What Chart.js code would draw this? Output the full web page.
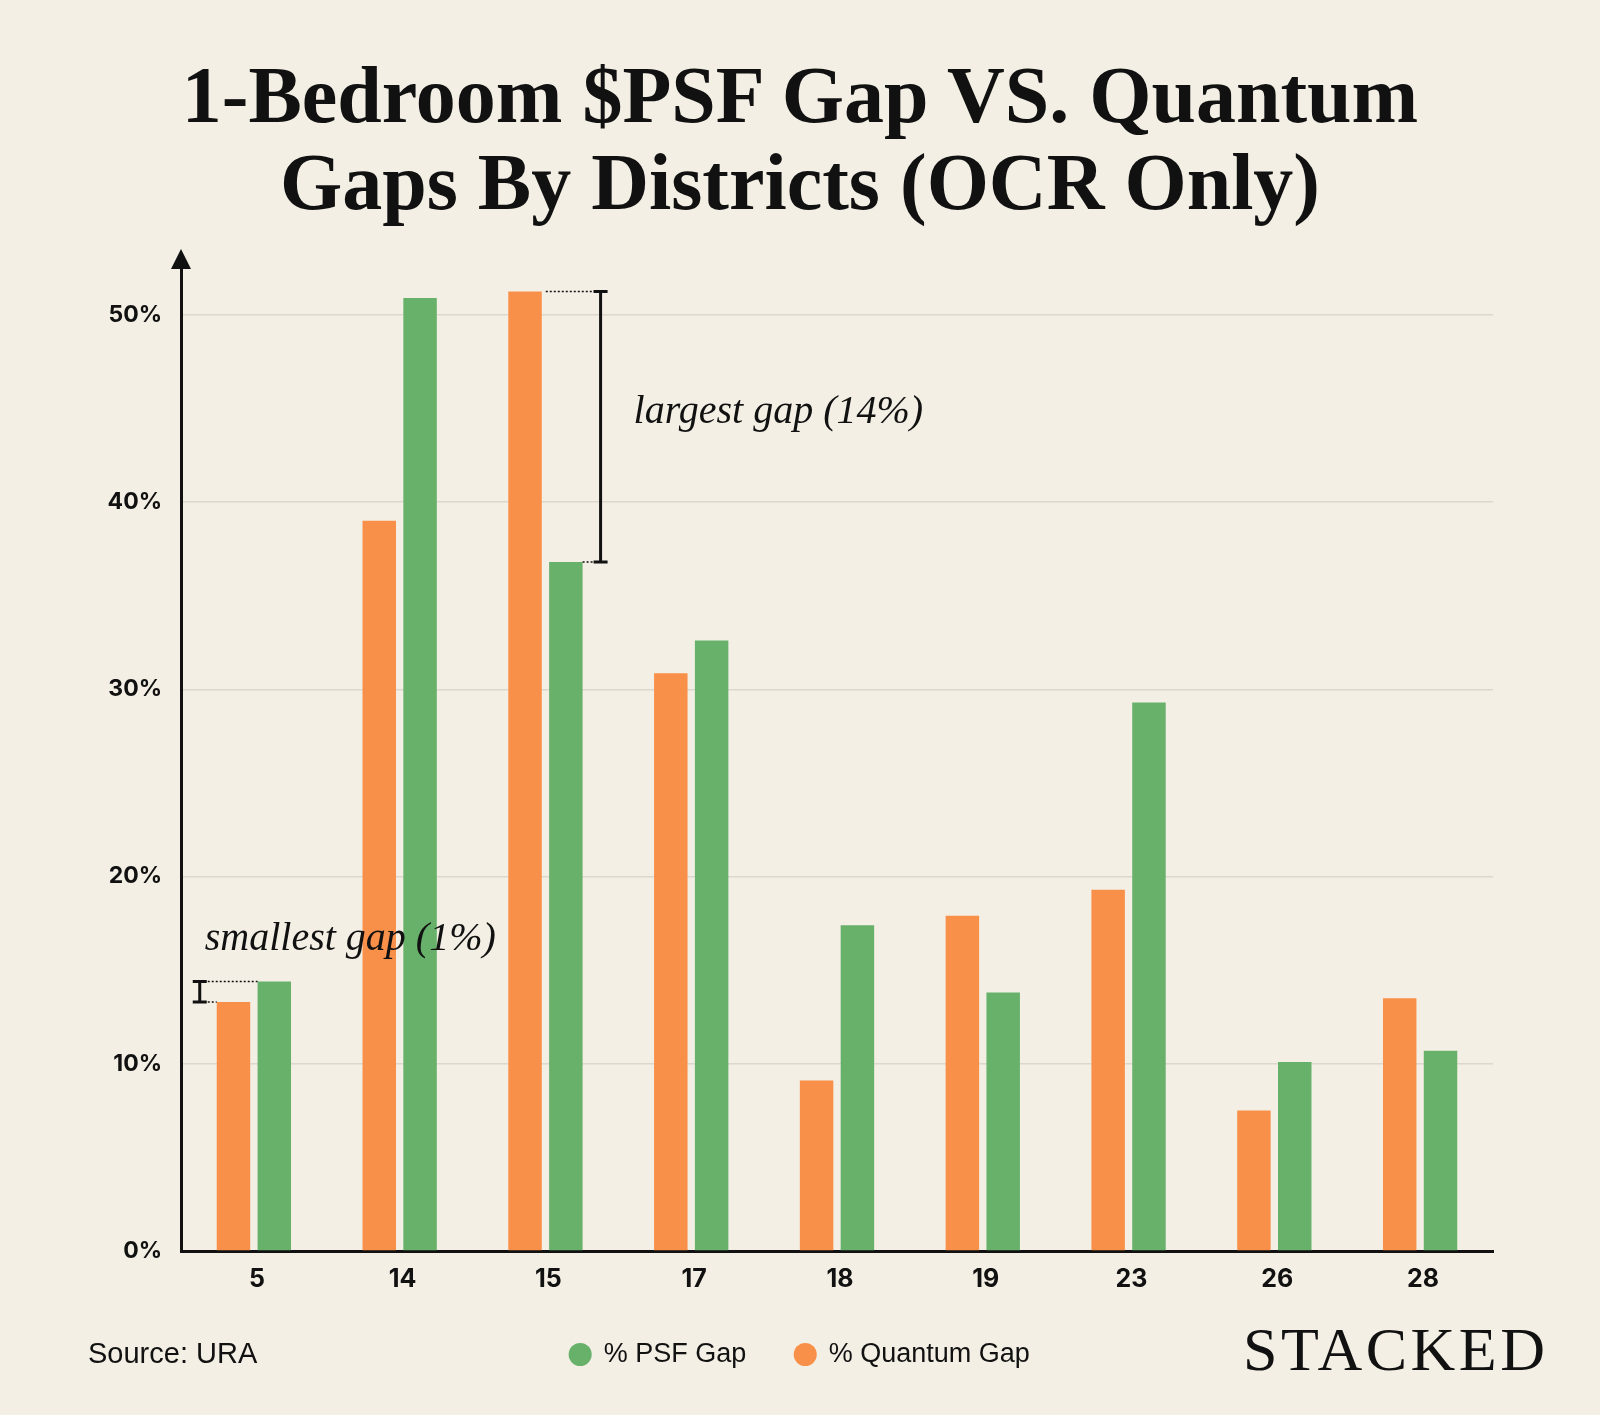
<!DOCTYPE html>
<html>
<head>
<meta charset="utf-8">
<script src="https://cdn.jsdelivr.net/npm/chart.js@4.4.1/dist/chart.umd.min.js"></script>
<style>
    html, body { margin: 0; padding: 0; background: #f3efe4; }
    #wrap { position: relative; width: 1600px; height: 1415px; }
    #title {
        position: absolute; left: 0; top: 52px; width: 1600px;
        text-align: center; color: #111;
        font-family: "Liberation Serif", serif; font-weight: bold;
        font-size: 80px; line-height: 87px;
    }
    #source {
        position: absolute; left: 88px; top: 1337px;
        font-family: "Liberation Sans", sans-serif; font-size: 29px; line-height: 32px; color: #111;
    }
    #brand {
        position: absolute; left: 1243px; top: 1318px;
        font-family: "Liberation Serif", serif; font-size: 62px; line-height: 62px;
        letter-spacing: 3.5px; color: #111;
    }
    canvas { position: absolute; left: 0; top: 0; }
</style>
</head>
<body>
<div id="wrap">
    <canvas id="gapChart" width="1600" height="1415"></canvas>
    <div id="title">1-Bedroom $PSF Gap VS. Quantum<br>Gaps By Districts (OCR Only)</div>
    <div id="source">Source: URA</div>
    <div id="brand">STACKED</div>
</div>
<script>
const districts = ["5", "14", "15", "17", "18", "19", "23", "26", "28"];
const quantumGap = [13.3, 39.0, 51.25, 30.85, 9.1, 17.9, 19.3, 7.5, 13.5];
const psfGap = [14.4, 50.9, 36.8, 32.6, 17.4, 13.8, 29.3, 10.1, 10.7];
const yTicks = [0, 10, 20, 30, 40, 50];
const noteLabels = ["largest gap (14%)", "smallest gap (1%)"];
const noteDistricts = [2, 0];

document.addEventListener("DOMContentLoaded", () => {

    const canvas = document.getElementById("gapChart");

    const ink = "#111";

    // arrow on the y axis + bracket notes
    const notes = {
        id: "notes",
        afterLayout(chart) {
            // centre the legend on the whole page, not on the plot
            chart.legend.left = 0;
            chart.legend.right = chart.width;
        },
        afterDraw(chart) {
            const ctx = chart.ctx;
            const area = chart.chartArea;
            const q = chart.getDatasetMeta(0).data;
            const p = chart.getDatasetMeta(1).data;

            ctx.save();
            ctx.fillStyle = ink;
            ctx.beginPath();
            ctx.moveTo(area.left, area.top - 19);
            ctx.lineTo(area.left - 10, area.top + 1);
            ctx.lineTo(area.left + 10, area.top + 1);
            ctx.closePath();
            ctx.fill();

            ctx.strokeStyle = ink;

            const bracket = (bx, y1, y2) => {
                ctx.setLineDash([]);
                ctx.lineWidth = 3;
                ctx.beginPath();
                ctx.moveTo(bx, y1); ctx.lineTo(bx, y2);
                ctx.moveTo(bx - 7, y1); ctx.lineTo(bx + 7, y1);
                ctx.moveTo(bx - 7, y2); ctx.lineTo(bx + 7, y2);
                ctx.stroke();
            };
            const dotted = (x1, x2, y) => {
                ctx.setLineDash([2, 2]);
                ctx.lineWidth = 1.5;
                ctx.beginPath();
                ctx.moveTo(x1, y); ctx.lineTo(x2, y);
                ctx.stroke();
            };

            ctx.font = "italic 40px 'Liberation Serif', serif";
            ctx.textBaseline = "middle";
            ctx.textAlign = "left";

            // largest gap: bracket on the right of the pair
            let i = noteDistricts[0];
            let qb = q[i], pb = p[i];
            let bx = pb.x + pb.width / 2 + 18;
            dotted(qb.x + qb.width / 2 + 4, bx - 6, qb.y);
            dotted(pb.x + pb.width / 2, bx - 6, pb.y);
            bracket(bx, qb.y, pb.y);
            ctx.fillText(noteLabels[0], bx + 33, (qb.y + pb.y) / 2 - 14);

            // smallest gap: bracket on the left of the pair
            i = noteDistricts[1];
            qb = q[i]; pb = p[i];
            bx = qb.x - qb.width / 2 - 17;
            dotted(bx + 8, pb.x - pb.width / 2, pb.y);
            dotted(bx + 8, qb.x - qb.width / 2, qb.y);
            bracket(bx, pb.y, qb.y);
            ctx.fillText(noteLabels[1], bx + 5, pb.y - 42);

            ctx.restore();
        }
    };

    new Chart(canvas, {
        type: "bar",
        data: {
            labels: districts,
            datasets: [{
                label: "% Quantum Gap",
                data: quantumGap,
                backgroundColor: "#f99049",
                categoryPercentage: 0.56,
                barPercentage: 0.82
            }, {
                label: "% PSF Gap",
                data: psfGap,
                backgroundColor: "#67b16b",
                categoryPercentage: 0.56,
                barPercentage: 0.82
            }]
        },
        options: {
            responsive: false,
            animation: false,
            layout: { padding: { top: 268, right: 107, bottom: 37, left: 0 } },
            plugins: {
                legend: {
                    position: "bottom",
                    reverse: true,
                    labels: {
                        usePointStyle: true,
                        pointStyle: "circle",
                        boxWidth: 20,
                        boxHeight: 16.3,
                        padding: 49,
                        color: ink,
                        font: { family: "Liberation Sans", size: 27 }
                    }
                },
                tooltip: { enabled: false }
            },
            scales: {
                x: {
                    grid: { display: false, drawTicks: false },
                    border: { color: ink, width: 3 },
                    ticks: {
                        padding: 13,
                        labelOffset: 3,
                        color: ink,
                        font: { family: "Inter", size: 25, weight: "bold" }
                    },
                    afterFit: s => { s.height = 41; }
                },
                y: {
                    min: 0,
                    max: 52.5,
                    ticks: {
                        stepSize: 10,
                        padding: 19,
                        color: ink,
                        font: { family: "Inter", size: 23, weight: "bold" },
                        callback: v => v + "%"
                    },
                    afterBuildTicks: s => { s.ticks = s.ticks.filter(t => yTicks.includes(t.value)); },
                    afterFit: s => { s.width = 181; },
                    grid: { color: "#dcd8cc", lineWidth: 1.5, drawTicks: false },
                    border: { color: ink, width: 3 }
                }
            }
        },
        plugins: [notes]
    });

});
</script>
</body>
</html>
